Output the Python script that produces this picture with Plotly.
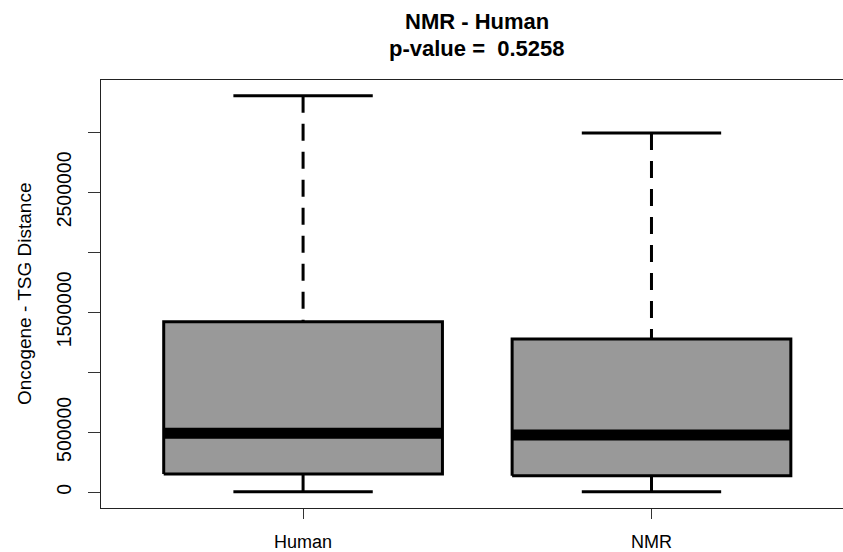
import plotly.graph_objects as go

# Five-number summaries of oncogene–TSG distances per species
groups = ["Human", "NMR"]
lower_whisker = [5000, 5000]
q1 = [152000, 138000]
median = [492000, 478000]
q3 = [1422000, 1278000]
upper_whisker = [3305000, 2995000]

y_ticks = [0, 500000, 1000000, 1500000, 2000000, 2500000, 3000000]
y_tick_text = ["0", "500000", "", "1500000", "", "2500000", ""]

title_main = "NMR - Human"
title_sub = "p-value =\u00a0 0.5258"
y_title = "Oncogene - TSG Distance"

FONT = "Liberation Sans, Arial, sans-serif"
BOX_HALF = 0.4
CAP_HALF = 0.2

fig = go.Figure()

for i, name in enumerate(groups):
    x = i + 1
    # filled box from Q1 to Q3
    fig.add_trace(go.Scatter(
        x=[x - BOX_HALF, x + BOX_HALF, x + BOX_HALF, x - BOX_HALF, x - BOX_HALF],
        y=[q1[i], q1[i], q3[i], q3[i], q1[i]],
        mode="lines", fill="toself", fillcolor="#999999",
        line=dict(color="black", width=3), hoverinfo="skip",
    ))
    # dashed whiskers, drawn outward from the whisker ends
    fig.add_trace(go.Scatter(
        x=[x, x], y=[upper_whisker[i], q3[i]], mode="lines",
        line=dict(color="black", width=3, dash="17px,11px"), hoverinfo="skip",
    ))
    fig.add_trace(go.Scatter(
        x=[x, x], y=[lower_whisker[i], q1[i]], mode="lines",
        line=dict(color="black", width=3, dash="17px,11px"), hoverinfo="skip",
    ))
    # whisker caps
    for yv in (upper_whisker[i], lower_whisker[i]):
        fig.add_trace(go.Scatter(
            x=[x - CAP_HALF, x + CAP_HALF], y=[yv, yv], mode="lines",
            line=dict(color="black", width=3), hoverinfo="skip",
        ))
    # heavy median bar
    fig.add_trace(go.Scatter(
        x=[x - BOX_HALF, x + BOX_HALF], y=[median[i], median[i]], mode="lines",
        line=dict(color="black", width=11), hoverinfo="skip",
    ))

fig.update_layout(
    width=843, height=552,
    margin=dict(l=101, r=0, t=80, b=44),
    paper_bgcolor="white", plot_bgcolor="white",
    showlegend=False,
    font=dict(family=FONT, size=18, color="black"),
    xaxis=dict(
        range=[0.42, 2.5497], tickvals=[1, 2], ticktext=groups,
        ticks="outside", ticklen=10, tickwidth=1, tickcolor="#333",
        ticklabelstandoff=7,
        showline=True, linecolor="#222", linewidth=1.3, mirror=True,
        showgrid=False, zeroline=False, fixedrange=True,
        tickfont=dict(size=18, color="black"),
    ),
    yaxis=dict(
        range=[-131000, 3436000], tickvals=y_ticks, ticktext=y_tick_text,
        tickangle=-90, ticks="outside", ticklen=12, tickwidth=1, tickcolor="#333",
        ticklabelstandoff=9,
        showline=True, linecolor="#222", linewidth=1.3, mirror=False,
        showgrid=False, zeroline=False, fixedrange=True,
        tickfont=dict(size=19.5, color="black"),
    ),
    annotations=[
        dict(text="<b>%s</b>" % title_main, x=1.5, xref="x", y=1, yref="paper",
             yanchor="middle", xanchor="center", showarrow=False,
             font=dict(size=22, color="black"), yshift=80 - 21.7),
        dict(text="<b>%s</b>" % title_sub, x=1.5, xref="x", y=1, yref="paper",
             yanchor="middle", xanchor="center", showarrow=False,
             font=dict(size=22, color="black"), yshift=80 - 48),
        dict(text=y_title, textangle=-90, x=0, xref="paper", xshift=-77,
             y=0.5, yref="paper", xanchor="center", yanchor="middle",
             showarrow=False, font=dict(size=19, color="black")),
    ],
)

fig.write_html("out.html")
